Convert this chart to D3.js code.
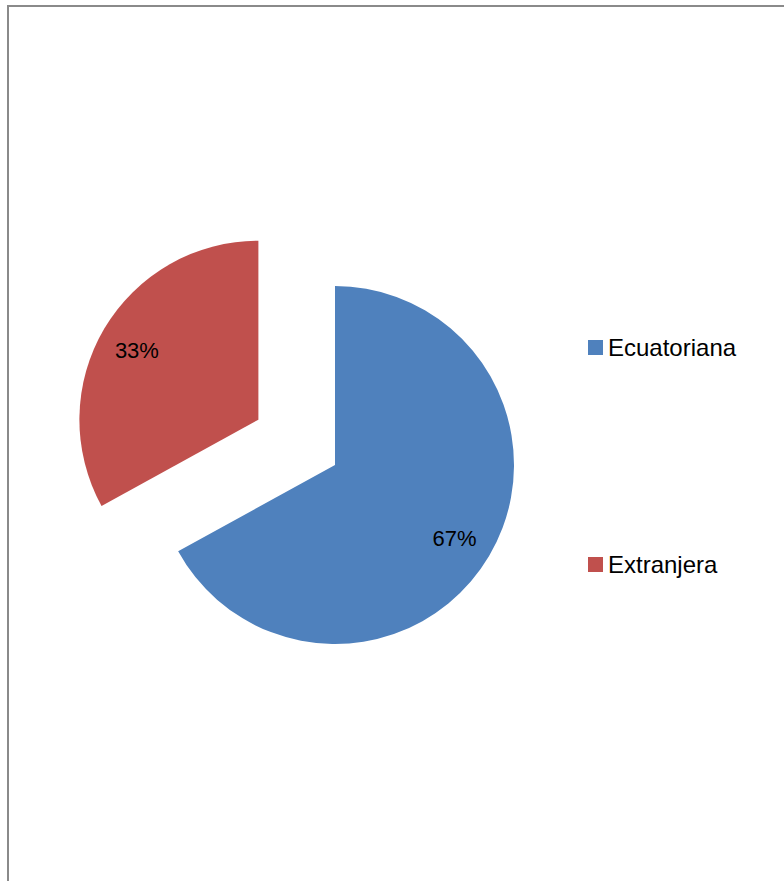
<!DOCTYPE html>
<html>
<head>
<meta charset="utf-8">
<script src="https://cdn.jsdelivr.net/npm/d3@7"></script>
<style>
html,body{margin:0;padding:0;background:#fff;}
svg{display:block;}
</style>
</head>
<body>
<svg id="chart" width="784" height="881"></svg>
<script>
const categories = ["Ecuatoriana", "Extranjera"];
const values = [67, 33];
const labels = ["67%", "33%"];
const colors = ["#4F81BD", "#C0504D"];
const explode = [0, 89];

const svg = d3.select("#chart");
svg.append("rect").attr("x", 8).attr("y", 6).attr("width", 820).attr("height", 920)
  .attr("fill", "none").attr("stroke", "#8a8a8a").attr("stroke-width", 2);

const cx = 335, cy = 465, r = 179;
const pie = d3.pie().sort(null).value(d => d.v);
const arcs = pie(categories.map((c, i) => ({c, v: values[i], i})));
const arc = d3.arc().innerRadius(0).outerRadius(r);
const labelArc = d3.arc().innerRadius(140).outerRadius(140);

const g = svg.append("g").attr("transform", `translate(${cx},${cy})`);
arcs.forEach((a, i) => {
  const mid = (a.startAngle + a.endAngle) / 2;
  const dx = Math.sin(mid) * explode[i], dy = -Math.cos(mid) * explode[i];
  const sg = g.append("g").attr("transform", `translate(${dx},${dy})`);
  sg.append("path").attr("d", arc(a)).attr("fill", colors[i]);
  const [lx, ly] = labelArc.centroid(a);
  sg.append("text").attr("x", lx - 1).attr("y", ly + 2).attr("dy", "0.35em")
    .attr("text-anchor", "middle")
    .style("font-family", "'Liberation Sans', Arial, sans-serif")
    .style("font-size", "22px").attr("fill", "#000").text(labels[i]);
});

const legendY = d3.scaleOrdinal().domain(categories).range([356, 573]);
categories.forEach((c, i) => {
  const y = legendY(c);
  svg.append("rect").attr("x", 588).attr("y", y - 16).attr("width", 15).attr("height", 15).attr("fill", colors[i]);
  svg.append("text").attr("x", 608).attr("y", y)
    .style("font-family", "'Liberation Sans', Arial, sans-serif")
    .style("font-size", "24px").attr("fill", "#000").text(c);
});
</script>
</body>
</html>
